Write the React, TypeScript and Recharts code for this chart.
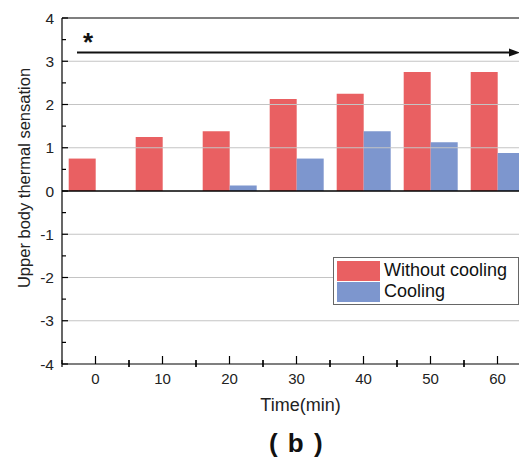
import React from "react";
import {
  BarChart,
  Bar,
  XAxis,
  YAxis,
  Legend,
  ReferenceLine,
  Label,
} from "recharts";

const times = ["0", "10", "20", "30", "40", "50", "60"];
const withoutCooling = [0.75, 1.25, 1.38, 2.13, 2.25, 2.75, 2.75];
const cooling = [0, 0, 0.13, 0.75, 1.38, 1.13, 0.88];
const yTicks = [-4, -3.5, -3, -2.5, -2, -1.5, -1, -0.5, 0, 0.5, 1, 1.5, 2, 2.5, 3, 3.5, 4];
const gridLevels = [-3, -2, -1, 1, 2, 3];

const RED = "#e96062";
const BLUE = "#7d96ce";
const FONT = "Arial, 'Liberation Sans', sans-serif";

const data = times.map((t, i) => ({
  time: t,
  without: withoutCooling[i],
  cooling: cooling[i],
}));

function YTick(props: any) {
  const { x, y, payload } = props;
  const major = Number.isInteger(payload.value);
  const ax = x + 7;
  return (
    <g>
      <line x1={ax} x2={ax + (major ? 6 : 4)} y1={y} y2={y} stroke="#000" strokeWidth={1.2} />
      {major && (
        <text x={x - 1} y={y + 5.5} textAnchor="end" fontSize={15.5} fill="#222" fontFamily={FONT}>
          {payload.value}
        </text>
      )}
    </g>
  );
}

function XTick(props: any) {
  const { x, y, payload } = props;
  const half = payload.offset ?? 33.5;
  return (
    <g>
      <line x1={x} x2={x} y1={y - 8} y2={y} stroke="#000" strokeWidth={1.2} />
      <line x1={x - half} x2={x - half} y1={y - 4} y2={y + 3} stroke="#000" strokeWidth={1.2} />
      <line x1={x + half} x2={x + half} y1={y - 4} y2={y + 3} stroke="#000" strokeWidth={1.2} />
      <text x={x} y={y + 20} textAnchor="middle" fontSize={15} fill="#222" fontFamily={FONT}>
        {payload.value}
      </text>
    </g>
  );
}

function ArrowShape(props: any) {
  const { x1, y1, x2 } = props;
  const start = x1 + 15;
  const end = x2 - 11;
  return (
    <g>
      <line x1={start} x2={end - 8} y1={y1} y2={y1} stroke="#111" strokeWidth={2} />
      <path d={`M${end},${y1} L${end - 11},${y1 - 4} L${end - 11},${y1 + 4} Z`} fill="#111" />
      <text x={start + 11} y={y1 - 2} textAnchor="middle" fontSize={26} fontWeight="bold" fill="#111" fontFamily={FONT}>
        *
      </text>
    </g>
  );
}

function LegendBox() {
  const row = (color: string, label: string) => (
    <div style={{ display: "flex", alignItems: "center", height: 21 }}>
      <div style={{ width: 43, height: 20, background: color, marginRight: 4 }} />
      <span style={{ fontSize: 18, color: "#111", fontFamily: FONT }}>{label}</span>
    </div>
  );
  return (
    <div style={{ border: "1px solid #666", padding: "2px 3px", width: 178, boxSizing: "content-box", background: "#fff" }}>
      {row(RED, "Without cooling")}
      {row(BLUE, "Cooling")}
    </div>
  );
}

export default function App() {
  return (
    <div style={{ margin: "-8px 0 0 -8px", width: 527, height: 459, overflow: "hidden", position: "relative", background: "#fff" }}>
      <BarChart
        width={540}
        height={459}
        data={data}
        margin={{ top: 18, right: 9, left: 0, bottom: 0 }}
        barCategoryGap="10%"
        barGap={0}
      >
        {gridLevels.map((v) => (
          <ReferenceLine key={v} y={v} stroke="#c4c4c4" strokeWidth={1.2} />
        ))}
        <ReferenceLine y={4} stroke="#000" strokeWidth={1.2} />
        <ReferenceLine y={3.2} shape={ArrowShape} />
        <XAxis
          dataKey="time"
          type="category"
          height={95}
          tickLine={false}
          tickSize={0}
          tickMargin={0}
          tick={XTick}
          axisLine={{ stroke: "#000", strokeWidth: 1.2 }}
          interval={0}
        >
          <Label
            content={(p: any) => {
              const vb = p.viewBox;
              return (
                <g>
                  <text x={vb.x + vb.width / 2 + 4} y={vb.y + 47} textAnchor="middle" fontSize={18} fill="#222" fontFamily={FONT}>
                    Time(min)
                  </text>
                  <text x={vb.x + vb.width / 2} y={vb.y + 88} textAnchor="middle" fontSize={26} fontWeight="bold" letterSpacing={1.5} fill="#111" fontFamily={FONT}>
                    ( b )
                  </text>
                </g>
              );
            }}
          />
        </XAxis>
        <YAxis
          type="number"
          domain={[-4, 4]}
          ticks={yTicks}
          interval={0}
          width={62}
          tickLine={false}
          tickSize={0}
          tickMargin={7}
          tick={YTick}
          axisLine={{ stroke: "#000", strokeWidth: 1.2 }}
          allowDataOverflow
        >
          <Label
            content={(p: any) => {
              const vb = p.viewBox;
              const cx = 30;
              const cy = vb.y + vb.height / 2 - 13;
              return (
                <text
                  x={cx}
                  y={cy}
                  transform={`rotate(-90 ${cx} ${cy})`}
                  textAnchor="middle"
                  fontSize={16.5}
                  fill="#222"
                  fontFamily={FONT}
                >
                  Upper body thermal sensation
                </text>
              );
            }}
          />
        </YAxis>
        <ReferenceLine y={0} stroke="#000" strokeWidth={1.5} />
        <Legend
          layout="vertical"
          align="center"
          verticalAlign="middle"
          content={() => <LegendBox />}
          wrapperStyle={{ left: 333, top: 257, width: "auto" }}
        />
        <Bar dataKey="without" name="Without cooling" fill={RED} isAnimationActive={false} />
        <Bar dataKey="cooling" name="Cooling" fill={BLUE} isAnimationActive={false} />
      </BarChart>
    </div>
  );
}
